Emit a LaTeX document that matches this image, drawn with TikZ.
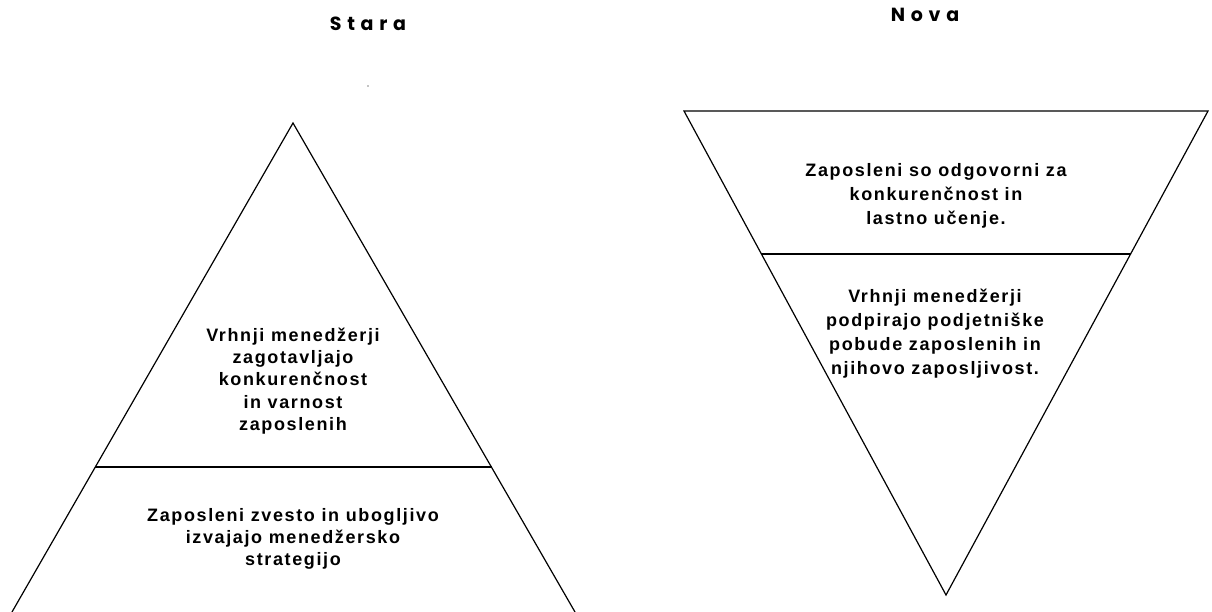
\documentclass[tikz,border=0pt]{standalone}
\usepackage{fontspec}
\setmainfont{Liberation Sans}
\newfontfamily\labelfont{Liberation Sans}[LetterSpace=9]
\newfontfamily\titlefont{Poppins}[LetterSpace=30]
\tikzset{
  edge/.style={line width=1.2pt, line join=miter, draw=black},
  divider/.style={line width=1.2pt, draw=black},
  caption/.style={font=\titlefont\bfseries\fontsize{19}{22}\selectfont, inner sep=0pt},
  leftlabel/.style={font=\labelfont\bfseries\fontsize{18}{22.3}\selectfont, align=center, inner sep=0pt},
  rightlabel/.style={font=\labelfont\bfseries\fontsize{18}{24}\selectfont, align=center, inner sep=0pt},
}
\begin{document}
\begin{tikzpicture}[x=1pt, y=-1pt]
  \useasboundingbox (0,0) rectangle (1212,612);
  \clip (0,0) rectangle (1212,612);

  % headings
  \node[caption] (stara) at (368,24) {Stara};
  \node[caption] (nova) at (925,15) {Nova};
  \fill (368,86) circle (0.7);

  % old pyramid
  \coordinate (oApex) at (293,123);
  \coordinate (oLeft) at (12,612);
  \coordinate (oRight) at (575,612);
  \draw[edge] (oLeft) -- (oApex) -- (oRight);
  \coordinate (oDivL) at (95,467);
  \coordinate (oDivR) at (492,467);
  \draw[divider] (oDivL) -- (oDivR);

  \node[leftlabel] (oTop) at (293,381) {Vrhnji menedžerji\\zagotavljajo\\konkurenčnost\\in varnost\\zaposlenih};
  \node[leftlabel] (oBottom) at (293,539) {Zaposleni zvesto in ubogljivo\\izvajajo menedžersko\\strategijo};

  % new, inverted pyramid
  \coordinate (nLeft) at (684,111);
  \coordinate (nRight) at (1208,111);
  \coordinate (nApex) at (946,595);
  \draw[edge] (nLeft) -- (nRight) -- (nApex) -- cycle;
  \coordinate (nDivL) at (761,254);
  \coordinate (nDivR) at (1131,254);
  \draw[divider] (nDivL) -- (nDivR);

  \node[rightlabel] (nTop) at (936,196) {Zaposleni so odgovorni za\\konkurenčnost in\\lastno učenje.};
  \node[rightlabel] (nBottom) at (935,334) {Vrhnji menedžerji\\podpirajo podjetniške\\pobude zaposlenih in\\njihovo zaposljivost.};
\end{tikzpicture}
\end{document}
